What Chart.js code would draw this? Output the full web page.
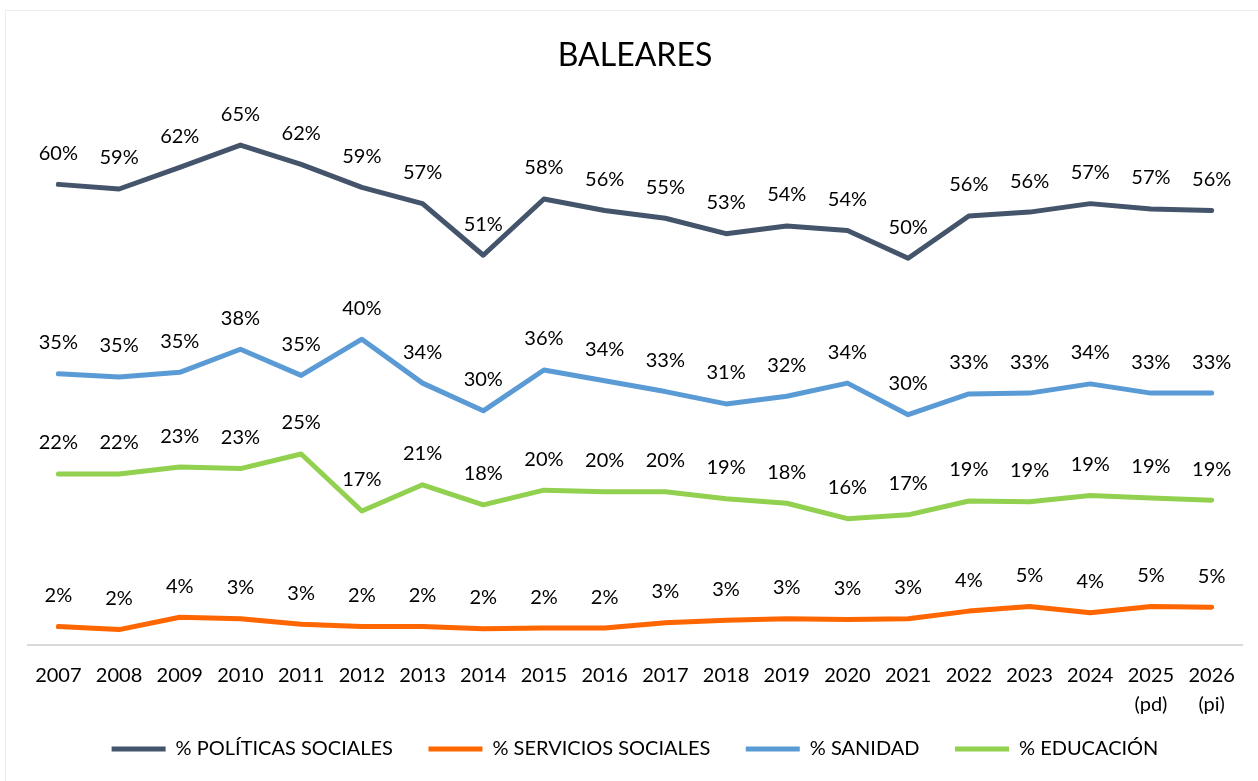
<!DOCTYPE html>
<html lang="es">
<head>
<meta charset="UTF-8">
<title>BALEARES</title>
<script src="https://cdn.jsdelivr.net/npm/chart.js@4.4.1/dist/chart.umd.min.js"></script>
<style>
    html, body { margin: 0; padding: 0; background: #ffffff; }
    #wrap { position: relative; width: 1258px; height: 781px; }
    #marco {
        position: absolute; left: 5px; top: 10px; right: 0; bottom: 0;
        border-left: 1px solid #ececec; border-top: 1px solid #ececec;
        pointer-events: none;
    }
</style>
</head>
<body>
<div id="wrap">
    <div id="marco"></div>
    <canvas id="balearesChart" width="1258" height="781"></canvas>
</div>
<script>
// Datos (porcentaje del gasto)
const years = ['2007', '2008', '2009', '2010', '2011', '2012', '2013', '2014', '2015', '2016',
               '2017', '2018', '2019', '2020', '2021', '2022', '2023', '2024', '2025 (pd)', '2026 (pi)'];
const politicasSociales = [59.8, 59.2, 62.0, 64.9, 62.4, 59.4, 57.3, 50.6, 57.9, 56.4,
                           55.4, 53.4, 54.4, 53.8, 50.2, 55.7, 56.2, 57.3, 56.6, 56.4];
const serviciosSociales = [2.4, 2.0, 3.6, 3.4, 2.7, 2.4, 2.4, 2.1, 2.2, 2.2,
                           2.9, 3.2, 3.4, 3.3, 3.4, 4.4, 5.0, 4.2, 5.0, 4.9];
const sanidad = [35.2, 34.8, 35.4, 38.4, 35.0, 39.7, 34.0, 30.4, 35.7, 34.3,
                 32.9, 31.3, 32.3, 34.0, 29.9, 32.6, 32.7, 33.9, 32.7, 32.7];
const educacion = [22.2, 22.2, 23.1, 22.9, 24.8, 17.4, 20.8, 18.2, 20.1, 19.9,
                   19.9, 19.0, 18.4, 16.4, 16.9, 18.7, 18.6, 19.4, 19.1, 18.8];

// Etiquetas del eje: los años con sufijo van en dos líneas
const tickLabels = years.map(y => y.includes(' ') ? y.split(' ') : y);

Chart.defaults.font.family = 'Lato, "Liberation Sans", sans-serif';
Chart.defaults.color = '#000000';

// Plugin sencillo para escribir el valor encima de cada punto
const valueLabels = {
    id: 'valueLabels',
    afterDatasetsDraw(chart) {
        const ctx = chart.ctx;
        ctx.save();
        ctx.font = '20px Lato, "Liberation Sans", sans-serif';
        ctx.fillStyle = '#000000';
        ctx.textAlign = 'center';
        ctx.textBaseline = 'middle';
        chart.data.datasets.forEach((ds, i) => {
            chart.getDatasetMeta(i).data.forEach((pt, j) => {
                ctx.fillText(Math.round(ds.data[j]) + '%', pt.x, pt.y - 31);
            });
        });
        ctx.restore();
    }
};

function serie(label, data, color) {
    return {
        label: label,
        data: data,
        borderColor: color,
        backgroundColor: color,
        borderWidth: 5,
        borderCapStyle: 'round',
        borderJoinStyle: 'round',
        pointRadius: 0,
        pointHoverRadius: 0,
        tension: 0,
        fill: false
    };
}

const ctx = document.getElementById('balearesChart').getContext('2d');
new Chart(ctx, {
    type: 'line',
    data: {
        labels: tickLabels,
        datasets: [
            serie('% POLÍTICAS SOCIALES', politicasSociales, '#44546A'),
            serie('% SERVICIOS SOCIALES', serviciosSociales, '#FF6600'),
            serie('% SANIDAD', sanidad, '#5B9BD5'),
            serie('% EDUCACIÓN', educacion, '#92D050')
        ]
    },
    options: {
        responsive: false,
        animation: false,
        devicePixelRatio: 1,
        layout: {
            padding: { left: 28, right: 16, top: 0, bottom: 12 }
        },
        plugins: {
            title: {
                display: true,
                text: 'BALEARES',
                color: '#000000',
                font: { size: 32, weight: 'normal' },
                padding: { top: 36, bottom: 16 }
            },
            legend: {
                position: 'bottom',
                labels: {
                    usePointStyle: true,
                    pointStyle: 'line',
                    pointStyleWidth: 54,
                    padding: 18,
                    color: '#000000',
                    font: { size: 20 },
                    // separación extra entre elementos de la leyenda
                    generateLabels(chart) {
                        const items = Chart.defaults.plugins.legend.labels.generateLabels(chart);
                        items.forEach((it, i) => {
                            if (i < items.length - 1) it.text += '\u2003\u2009';
                        });
                        return items;
                    }
                }
            },
            tooltip: { enabled: false }
        },
        scales: {
            x: {
                offset: true,
                grid: { display: false, drawTicks: false },
                border: { display: true, color: '#D9D9D9', width: 2 },
                ticks: {
                    autoSkip: false,
                    maxRotation: 0,
                    padding: 16,
                    color: '#000000',
                    font: { size: 20, lineHeight: 1.45 }
                },
                // altura justa para las dos líneas de (pd) / (pi)
                afterFit: (scale) => { scale.height = 76; }
            },
            y: {
                display: false,
                min: 0,
                max: 72
            }
        }
    },
    plugins: [valueLabels]
});
</script>
</body>
</html>
